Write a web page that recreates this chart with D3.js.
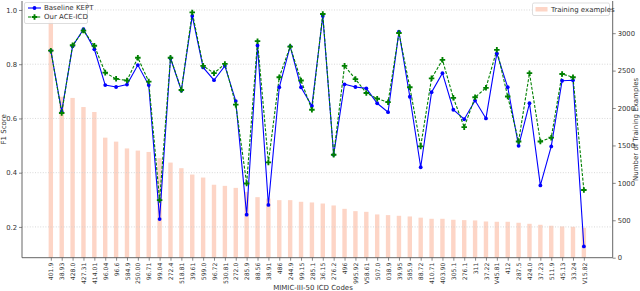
<!DOCTYPE html>
<html>
<head>
<meta charset="utf-8">
<script src="https://cdn.jsdelivr.net/npm/d3@7"></script>
<style>
  body { margin: 0; background: #fff; }
  text { font-family: "DejaVu Sans", sans-serif; fill: #333; }
</style>
</head>
<body>
<svg id="chart" width="640" height="291"></svg>
<script>
const codes = ["401.9","38.93","428.0","427.31","414.01","96.04","96.6","584.9","250.00","96.71",
  "99.04","272.4","518.81","39.61","599.0","96.72","530.81","272.0","285.9","88.56",
  "38.91","486","244.9","99.15","285.1","36.15","276.2","496","995.92","V58.61",
  "507.0","038.9","39.95","585.9","88.72","410.71","403.90","305.1","276.1","311",
  "37.22","V45.81","412","287.5","424.0","37.23","511.9","45.13","33.24","V15.82"];

const kept = [0.850,0.625,0.866,0.929,0.855,0.723,0.716,0.725,0.797,0.723,
  0.229,0.822,0.703,0.978,0.788,0.741,0.794,0.664,0.245,0.869,
  0.281,0.715,0.866,0.715,0.646,0.978,0.466,0.726,0.716,0.711,
  0.656,0.623,0.920,0.680,0.420,0.697,0.767,0.632,0.597,0.666,
  0.600,0.840,0.715,0.499,0.656,0.353,0.497,0.739,0.741,0.128];

const aceicd = [0.850,0.620,0.870,0.924,0.868,0.769,0.746,0.740,0.824,0.736,
  0.299,0.824,0.705,0.991,0.794,0.767,0.801,0.651,0.360,0.885,
  0.438,0.752,0.865,0.740,0.632,0.985,0.466,0.794,0.745,0.694,
  0.673,0.660,0.915,0.715,0.497,0.748,0.816,0.676,0.568,0.678,
  0.713,0.853,0.681,0.515,0.767,0.515,0.529,0.764,0.752,0.336];

const examples = [3380,2150,2135,2013,1947,1604,1551,1460,1431,1413,
  1330,1271,1196,1111,1071,975,960,933,880,809,
  790,769,769,747,738,724,698,653,622,613,
  578,569,560,551,535,520,520,507,502,498,
  484,480,480,467,453,440,427,418,413,400];

const f1Ticks = [0.2, 0.4, 0.6, 0.8, 1.0];
const countTicks = [0, 500, 1000, 1500, 2000, 2500, 3000];

const svg = d3.select("#chart");
const mLeft = 22, mRight = 612.7, mTop = 1, mBottom = 257.7;

const x = d3.scalePoint().domain(codes).range([mLeft, mRight]).padding(2.65);
const y = d3.scaleLinear().domain([0.0865, 1.0331]).range([mBottom, mTop]);
const y2 = d3.scaleLinear().domain([0, 3430]).range([mBottom, mTop]);

// bars
svg.append("g")
  .selectAll("rect")
  .data(examples)
  .join("rect")
  .attr("x", (d, i) => x(codes[i]) - 2.2)
  .attr("width", 4.4)
  .attr("y", d => y2(d))
  .attr("height", d => mBottom - y2(d))
  .attr("fill", "#fdd5c6");

// grid
svg.append("g")
  .selectAll("line")
  .data(f1Ticks)
  .join("line")
  .attr("x1", mLeft).attr("x2", mRight)
  .attr("y1", d => y(d)).attr("y2", d => y(d))
  .attr("stroke", "#cfcfcf")
  .attr("stroke-width", 0.8)
  .attr("stroke-dasharray", "1,1.6");

// axes
const axisLeft = svg.append("g")
  .attr("transform", `translate(${mLeft},0)`)
  .call(d3.axisLeft(y).tickValues(f1Ticks).tickFormat(d3.format(".1f")).tickSize(3).tickPadding(2));

const axisRight = svg.append("g")
  .attr("transform", `translate(${mRight},0)`)
  .call(d3.axisRight(y2).tickValues(countTicks).tickFormat(d3.format("d")).tickSize(3).tickPadding(2));

const axisBottom = svg.append("g")
  .attr("transform", `translate(0,${mBottom})`)
  .call(d3.axisBottom(x).tickSize(3).tickPadding(2));

[axisLeft, axisRight, axisBottom].forEach(g => {
  g.select(".domain").attr("stroke", "#555").attr("stroke-width", 0.9);
  g.selectAll(".tick line").attr("stroke", "#555").attr("stroke-width", 0.7);
  g.selectAll("text").style("font-size", "6.8px").attr("fill", "#333");
});

axisBottom.selectAll("text")
  .attr("transform", "rotate(-90)")
  .attr("x", -5).attr("y", 0).attr("dy", "0.35em")
  .style("text-anchor", "end")
  .style("font-size", "6.1px");

axisRight.select(".domain").attr("d", `M0,${mTop}V${mBottom}`);
axisLeft.select(".domain").attr("d", `M0,${mTop}V${mBottom}`);
axisBottom.select(".domain").attr("d", `M${mLeft},0H${mRight}`);

// lines
const line = vals => d3.line().x((d, i) => x(codes[i])).y(d => y(d))(vals);

svg.append("path")
  .attr("d", line(kept))
  .attr("fill", "none")
  .attr("stroke", "#0000ff")
  .attr("stroke-width", 1.1);

svg.append("path")
  .attr("d", line(aceicd))
  .attr("fill", "none")
  .attr("stroke", "#008000")
  .attr("stroke-width", 1.1)
  .attr("stroke-dasharray", "3,1.6");

svg.append("g")
  .selectAll("circle")
  .data(kept)
  .join("circle")
  .attr("cx", (d, i) => x(codes[i]))
  .attr("cy", d => y(d))
  .attr("r", 1.9)
  .attr("fill", "#0000ff");

const plus = d3.symbol().type(d3.symbolCross).size(17);
svg.append("g")
  .selectAll("path")
  .data(aceicd)
  .join("path")
  .attr("transform", (d, i) => `translate(${x(codes[i])},${y(d)})`)
  .attr("d", plus)
  .attr("fill", "#008000");

// legends
const leg = svg.append("g");
leg.append("rect").attr("x", 24.5).attr("y", 2.5).attr("width", 63).attr("height", 21)
  .attr("fill", "#fff").attr("fill-opacity", 0.85).attr("stroke", "#d0d0d0").attr("stroke-width", 0.7).attr("rx", 1.5);
leg.append("line").attr("x1", 28).attr("x2", 41).attr("y1", 8).attr("y2", 8)
  .attr("stroke", "#0000ff").attr("stroke-width", 1.1);
leg.append("circle").attr("cx", 34.5).attr("cy", 8).attr("r", 1.9).attr("fill", "#0000ff");
leg.append("line").attr("x1", 28).attr("x2", 41).attr("y1", 17).attr("y2", 17)
  .attr("stroke", "#008000").attr("stroke-width", 1.1).attr("stroke-dasharray", "3,1.6");
leg.append("path").attr("transform", "translate(34.5,17)").attr("d", plus).attr("fill", "#008000");
leg.append("text").attr("x", 44).attr("y", 8).attr("dy", "0.35em").style("font-size", "7px").text("Baseline KEPT");
leg.append("text").attr("x", 44).attr("y", 17).attr("dy", "0.35em").style("font-size", "7px").text("Our ACE-ICD");

const leg2 = svg.append("g");
leg2.append("rect").attr("x", 532.5).attr("y", 3).attr("width", 77).attr("height", 12.5)
  .attr("fill", "#fff").attr("fill-opacity", 0.85).attr("stroke", "#d0d0d0").attr("stroke-width", 0.7).attr("rx", 1.5);
leg2.append("rect").attr("x", 535.5).attr("y", 7).attr("width", 12).attr("height", 4.5).attr("fill", "#fdd5c6");
leg2.append("text").attr("x", 551).attr("y", 9.3).attr("dy", "0.35em").style("font-size", "7px").text("Training examples");

// axis titles
svg.append("text")
  .attr("transform", `translate(4,${(mTop + mBottom) / 2}) rotate(-90)`)
  .attr("dy", "0.35em")
  .style("text-anchor", "middle").style("font-size", "7px")
  .text("F1 Score");

svg.append("text")
  .attr("transform", `translate(636,${(mTop + mBottom) / 2}) rotate(-90)`)
  .attr("dy", "0.35em")
  .style("text-anchor", "middle").style("font-size", "7px")
  .text("Number of Training Examples");

svg.append("text")
  .attr("x", 313).attr("y", 289.5)
  .style("text-anchor", "middle").style("font-size", "7px")
  .text("MIMIC-III-50 ICD Codes");
</script>
</body>
</html>
